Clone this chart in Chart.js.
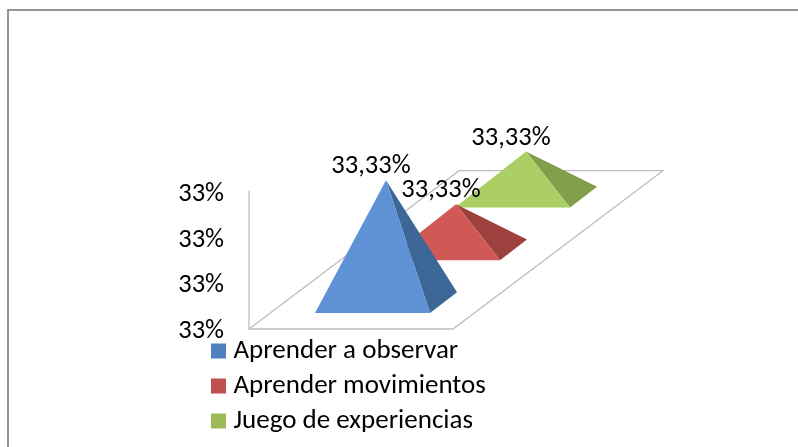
<!DOCTYPE html>
<html><head><meta charset="utf-8">
<style>html,body{margin:0;padding:0;background:#fff}canvas{display:block}</style>
<script src="https://cdn.jsdelivr.net/npm/chart.js@4/dist/chart.umd.min.js"></script>
</head><body>
<canvas id="c" width="798" height="447"></canvas>
<script>
const categories = ['Aprender a observar', 'Aprender movimientos', 'Juego de experiencias'];
const values = [33.33402, 33.3315, 33.3315];
const legendColors = ['#4F81BD', '#C0504D', '#9BBB59'];
const faceColors = ['#5F92D4', '#D25856', '#ABCF65'];
const sideColors = ['#3D6796', '#9E4240', '#829E4D'];
const axisMin = 33.33, axisMax = 33.3345, axisStep = 0.0015;

const FONT = 'Carlito, Lato, sans-serif';
const LABEL_SIZE = 26.5;
const LEGEND_SIZE = 27;
const GREY = '#bdbdbd';
const depthX = 210, depthY = 158.3, floorLift = 2.5;

class PyramidController extends Chart.BarController {
  draw() {
    const ctx = this.chart.ctx, ds = this.getDataset();
    const xs = this._cachedMeta.xScale, ys = this._cachedMeta.yScale;
    this._cachedMeta.data.forEach((el, i) => {
      if (ds.data[i] == null) return;
      const f = (el.x - xs.left) / xs.width;
      const cx = (xs.left + xs.right) / 2 + f * depthX;
      const cy = ys.bottom - floorLift - f * depthY;
      const h = ys.bottom - el.y;
      const hw = xs.width * 0.282, dx = 13.5, dy = 10.4;
      const ax = cx, ay = cy - h;
      const fl = [cx - hw - dx, cy + dy], fr = [cx + hw - dx, cy + dy], br = [cx + hw + dx, cy - dy];
      ctx.save();
      ctx.fillStyle = ds.sideColor;
      ctx.beginPath(); ctx.moveTo(ax, ay); ctx.lineTo(...fr); ctx.lineTo(...br); ctx.closePath(); ctx.fill();
      ctx.fillStyle = ds.faceColor;
      ctx.beginPath(); ctx.moveTo(ax, ay); ctx.lineTo(...fl); ctx.lineTo(...fr); ctx.closePath(); ctx.fill();
      ctx.restore();
    });
  }
}
PyramidController.id = 'pyramid';
PyramidController.defaults = Chart.BarController.defaults;
PyramidController.overrides = Chart.BarController.overrides;
Chart.register(PyramidController);

const frame = {
  id: 'frame',
  beforeDraw(chart) {
    const ctx = chart.ctx;
    ctx.save();
    ctx.strokeStyle = '#959595';
    ctx.lineWidth = 2;
    ctx.beginPath();
    ctx.moveTo(8, chart.height); ctx.lineTo(8, 10); ctx.lineTo(chart.width, 10);
    ctx.stroke();
    ctx.restore();
  }
};
const floor = {
  id: 'floor',
  beforeDatasetsDraw(chart) {
    const ctx = chart.ctx, a = chart.chartArea, y0 = a.bottom - floorLift;
    ctx.save();
    ctx.strokeStyle = GREY;
    ctx.lineWidth = 1.3;
    ctx.beginPath();
    ctx.moveTo(a.left, a.top - 4);
    ctx.lineTo(a.left, y0);
    ctx.lineTo(a.right, y0);
    ctx.lineTo(a.right + depthX, y0 - depthY);
    ctx.lineTo(a.left + depthX, y0 - depthY);
    ctx.lineTo(a.left, y0);
    ctx.stroke();
    ctx.restore();
  }
};
const pointLabels = {
  id: 'pointLabels',
  afterDatasetsDraw(chart) {
    const ctx = chart.ctx, xs = chart.scales.x;
    ctx.save();
    ctx.font = LABEL_SIZE + 'px ' + FONT;
    ctx.fillStyle = '#000';
    ctx.textAlign = 'center';
    ctx.textBaseline = 'middle';
    chart.data.datasets.forEach((ds, d) => {
      chart.getDatasetMeta(d).data.forEach((el, i) => {
        if (ds.data[i] == null) return;
        const f = (el.x - xs.left) / xs.width;
        const ax = (xs.left + xs.right) / 2 + f * depthX;
        const ay = el.y - floorLift - f * depthY;
        ctx.fillText(ds.data[i].toFixed(2).replace('.', ',') + '%', ax - 15, ay - 13.5);
      });
    });
    ctx.restore();
  }
};
const legendPlace = {
  id: 'legendPlace',
  afterLayout(chart) {
    const l = chart.legend;
    l.left = 209; l.top = 329.5; l.right = 520; l.bottom = 500;
  }
};

new Chart(document.getElementById('c'), {
  type: 'pyramid',
  data: {
    labels: categories,
    datasets: categories.map((name, i) => ({
      label: name,
      data: values.map((v, j) => (j === i ? v : null)),
      backgroundColor: legendColors[i],
      borderColor: legendColors[i],
      borderWidth: 12,
      faceColor: faceColors[i],
      sideColor: sideColors[i],
      grouped: false,
      clip: false
    }))
  },
  plugins: [frame, floor, pointLabels, legendPlace],
  options: {
    responsive: false,
    animation: false,
    layout: { padding: { top: 194.5, right: 345, bottom: 115.5, left: 0 } },
    scales: {
      x: { type: 'category', display: false, offset: true, grid: { display: false } },
      y: {
        type: 'linear', min: axisMin, max: axisMax,
        grid: { display: false, drawTicks: false },
        border: { display: false },
        afterFit(s) { s.width = 249; },
        ticks: {
          stepSize: axisStep,
          padding: 25,
          color: '#000',
          font: { family: FONT, size: LABEL_SIZE },
          callback: v => Math.round(v) + '%'
        }
      }
    },
    plugins: {
      tooltip: { enabled: false },
      legend: {
        position: 'chartArea',
        align: 'start',
        labels: {
          boxWidth: 3, boxHeight: 3,
          padding: 8,
          color: '#000',
          font: { family: FONT, size: LEGEND_SIZE }
        }
      }
    }
  }
});
</script>
</body></html>
